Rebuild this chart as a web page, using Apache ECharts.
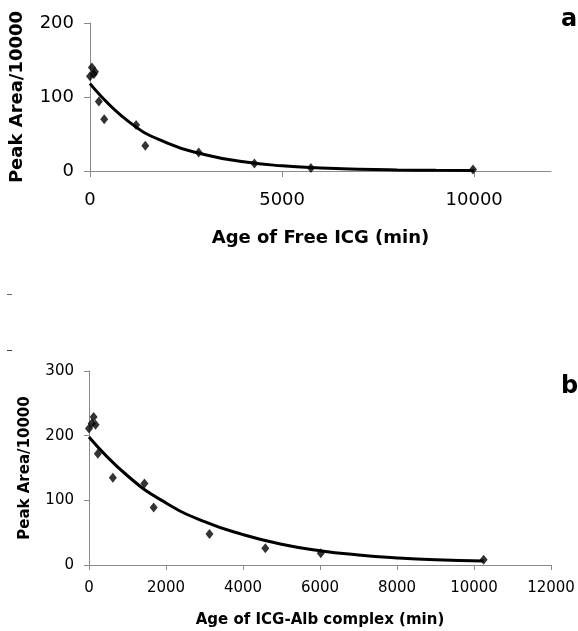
<!DOCTYPE html>
<html>
<head>
<meta charset="utf-8">
<script src="https://cdn.jsdelivr.net/npm/echarts@6/dist/echarts.min.js"></script>
<style>
  html, body { margin: 0; padding: 0; background: #fff; }
  #chart { width: 578px; height: 631px; }
</style>
</head>
<body>
<div id="chart"></div>
<script>
// panel a: free ICG
const freeAge = [0, 50, 100, 130, 230, 370, 1200, 1440, 2830, 4280, 5750, 9970];
const freeArea = [128, 140, 131, 134, 94, 70, 62, 34, 25, 10, 4, 2];
const freeFitAge = [0, 1000, 2000, 3000, 4000, 5000, 6000, 7000, 8000, 9000, 10000];
const freeFitArea = [118, 67, 38, 22, 12.5, 7, 4, 2.3, 1.4, 1, 0.8];

// panel b: ICG-Alb complex
const albAge = [0, 70, 120, 170, 230, 620, 1440, 1680, 3130, 4580, 6020, 10250];
const albArea = [211, 219, 229, 217, 172, 135, 126, 89, 48, 26, 18, 8];
const albFitAge = [0, 1000, 2000, 3000, 4000, 5000, 6000, 7000, 8000, 9000, 10250];
const albFitArea = [198, 138, 96, 67, 47, 32, 22, 15.5, 11, 8, 6];

const freeTicksX = [0, 5000, 10000];

const pairs = (xs, ys) => xs.map((x, i) => [x, ys[i]]);
const plain = (v) => String(v);

const axisGray = "#8a8a8a";
const font = "DejaVu Sans";

const chart = echarts.init(document.getElementById("chart"));
chart.setOption({
  animation: false,
  backgroundColor: "#fff",
  grid: [
    { left: 90, top: 23, width: 461, height: 148 },
    { left: 89, top: 371, width: 462, height: 194 },
  ],
  xAxis: [
    {
      gridIndex: 0,
      type: "value",
      min: 0,
      max: 12000,
      interval: 5000,
      name: "Age of Free ICG (min)",
      nameLocation: "middle",
      nameGap: 58,
      nameTextStyle: { fontFamily: font, fontWeight: "bold", fontSize: 18, color: "#000" },
      axisLine: { lineStyle: { color: axisGray, width: 1 } },
      axisTick: { length: 6, lineStyle: { color: axisGray }, customValues: freeTicksX },
      axisLabel: { customValues: freeTicksX, formatter: plain, margin: 20, fontFamily: font, fontSize: 18, color: "#000" },
      splitLine: { show: false },
    },
    {
      gridIndex: 1,
      type: "value",
      min: 0,
      max: 12000,
      interval: 2000,
      name: "Age of ICG-Alb complex (min)",
      nameLocation: "middle",
      nameGap: 48,
      nameTextStyle: { fontFamily: font, fontWeight: "bold", fontSize: 15, color: "#000" },
      axisLine: { lineStyle: { color: axisGray, width: 1 } },
      axisTick: { length: 5, lineStyle: { color: axisGray } },
      axisLabel: { formatter: plain, margin: 16, fontFamily: font, fontSize: 15, color: "#000" },
      splitLine: { show: false },
    },
  ],
  yAxis: [
    {
      gridIndex: 0,
      type: "value",
      min: 0,
      max: 200,
      interval: 100,
      name: "Peak Area/10000",
      nameLocation: "middle",
      nameGap: 64,
      nameTextStyle: { fontFamily: font, fontWeight: "bold", fontSize: 18, color: "#000" },
      axisLine: { show: true, lineStyle: { color: axisGray, width: 1 } },
      axisTick: { show: true, length: 6, lineStyle: { color: axisGray } },
      axisLabel: { margin: 16, fontFamily: font, fontSize: 18, color: "#000" },
      splitLine: { show: false },
    },
    {
      gridIndex: 1,
      type: "value",
      min: 0,
      max: 300,
      interval: 100,
      name: "Peak Area/10000",
      nameLocation: "middle",
      nameGap: 56,
      nameTextStyle: { fontFamily: font, fontWeight: "bold", fontSize: 15, color: "#000" },
      axisLine: { show: true, lineStyle: { color: axisGray, width: 1 } },
      axisTick: { show: true, length: 5, lineStyle: { color: axisGray } },
      axisLabel: { margin: 15, fontFamily: font, fontSize: 15, color: "#000" },
      splitLine: { show: false },
    },
  ],
  graphic: [
    { type: "text", left: 561, top: 8, style: { text: "a", font: "bold 24px DejaVu Sans", fill: "#000" } },
    { type: "text", left: 561, top: 375, style: { text: "b", font: "bold 24px DejaVu Sans", fill: "#000" } },
    { type: "line", shape: { x1: 7, y1: 294.5, x2: 12, y2: 294.5 }, style: { stroke: "#666", lineWidth: 1 } },
    { type: "line", shape: { x1: 7, y1: 350.5, x2: 12, y2: 350.5 }, style: { stroke: "#444", lineWidth: 1 } },
  ],
  series: [
    {
      type: "line",
      xAxisIndex: 0,
      yAxisIndex: 0,
      data: pairs(freeFitAge, freeFitArea),
      smooth: true,
      showSymbol: false,
      lineStyle: { color: "#000", width: 3 },
      z: 2,
    },
    {
      type: "scatter",
      xAxisIndex: 0,
      yAxisIndex: 0,
      data: pairs(freeAge, freeArea),
      symbol: "diamond",
      symbolSize: [8, 10],
      itemStyle: { color: "#000" },
      z: 3,
    },
    {
      type: "line",
      xAxisIndex: 1,
      yAxisIndex: 1,
      data: pairs(albFitAge, albFitArea),
      smooth: true,
      showSymbol: false,
      lineStyle: { color: "#000", width: 3 },
      z: 2,
    },
    {
      type: "scatter",
      xAxisIndex: 1,
      yAxisIndex: 1,
      data: pairs(albAge, albArea),
      symbol: "diamond",
      symbolSize: [8, 10],
      itemStyle: { color: "#000" },
      z: 3,
    },
  ],
});
</script>
</body>
</html>
